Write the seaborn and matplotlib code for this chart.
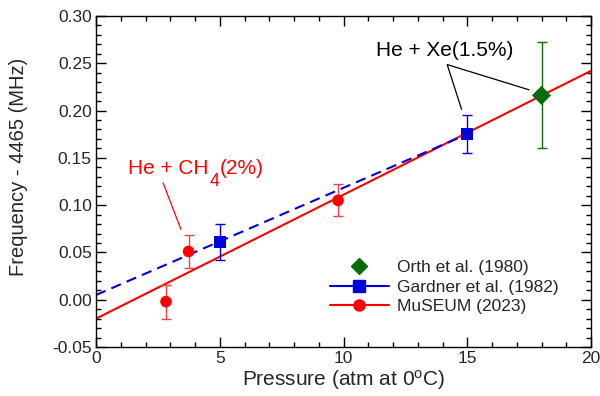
import matplotlib
matplotlib.use("Agg")
import matplotlib.pyplot as plt
import seaborn as sns
from matplotlib.ticker import MultipleLocator, FormatStrFormatter

# Data
museum_p = [2.83, 3.74, 9.78]
museum_f = [-0.002, 0.051, 0.105]
museum_err = [0.018, 0.017, 0.017]

gardner_p = [5.0, 15.0]
gardner_f = [0.061, 0.175]
gardner_err = [0.019, 0.020]

orth_p = [18.0]
orth_f = [0.216]
orth_err = [0.056]

# fitted lines (end points)
museum_fit_p = [0.0, 20.0]
museum_fit_f = [-0.020, 0.242]
gardner_fit_p = [0.0, 15.0]
gardner_fit_f = [0.005, 0.175]

labels = ["Orth et al. (1980)", "Gardner et al. (1982)", "MuSEUM (2023)"]

sns.set_theme(style="ticks")
plt.rcParams["font.family"] = ["Liberation Sans", "DejaVu Sans"]
plt.rcParams["mathtext.fontset"] = "custom"
plt.rcParams["mathtext.rm"] = "Liberation Sans"
plt.rcParams["mathtext.it"] = "Liberation Sans"

fig = plt.figure(figsize=(6, 3.96), dpi=100)
ax = fig.add_axes([0.16, 0.1237, 0.825, 0.836])

red = "#ff0000"
blue = "#0000dd"
green = "#0a6b0a"

# fit lines
sns.lineplot(x=museum_fit_p, y=museum_fit_f, ax=ax, color=red, lw=1.5)
sns.lineplot(x=gardner_fit_p, y=gardner_fit_f, ax=ax, color=blue, lw=1.5,
             linestyle=(0, (5, 3)))

# error bars
ax.errorbar(museum_p, museum_f, yerr=museum_err, fmt="none", ecolor="#f04040",
            elinewidth=1, capsize=3.5, capthick=1)
ax.errorbar(gardner_p, gardner_f, yerr=gardner_err, fmt="none", ecolor=blue,
            elinewidth=1, capsize=3.5, capthick=1)
ax.errorbar(orth_p, orth_f, yerr=orth_err, fmt="none", ecolor=green,
            elinewidth=1, capsize=3.5, capthick=1)

# points
sns.scatterplot(x=orth_p, y=orth_f, ax=ax, marker="D", color=green, s=95,
                edgecolor="none", zorder=5)
sns.scatterplot(x=gardner_p, y=gardner_f, ax=ax, marker="s", color=blue, s=75,
                edgecolor="none", zorder=5)
sns.scatterplot(x=museum_p, y=museum_f, ax=ax, marker="o", color=red, s=70,
                edgecolor="none", zorder=5)

# annotation: He + CH4 (subscript drawn lowered like the original)
t1 = ax.text(1.305, 0.1329, "He + CH", color=red, fontsize=15,
             ha="left", va="baseline")
t2 = ax.annotate("4", xy=(1, 0.1329), xycoords=(t1, "data"),
                 xytext=(0.5, -8.4), textcoords="offset points",
                 color=red, fontsize=13, ha="left", va="baseline")
ax.annotate("(2%)", xy=(1, 0.1329), xycoords=(t2, "data"),
            xytext=(0.3, 0), textcoords="offset points",
            color=red, fontsize=15, ha="left", va="baseline")
ax.plot([2.71, 3.43], [0.1236, 0.0745], color=red, lw=0.9)

ax.text(14.1, 0.2575, "He + Xe(1.5%)", color="black", fontsize=15,
        ha="center", va="baseline")
ax.plot([14.77, 14.19, 17.5], [0.2013, 0.2486, 0.2219], color="black", lw=0.9)

# legend
handles = [
    plt.Line2D([], [], color=green, marker="D", linestyle="none", markersize=8),
    plt.Line2D([], [], color=blue, marker="s", lw=1.5, markersize=8),
    plt.Line2D([], [], color=red, marker="o", lw=1.5, markersize=8),
]
ax.legend(handles, labels, loc="lower right", bbox_to_anchor=(0.96, 0.062),
          frameon=False, fontsize=12.5, handlelength=3.4, handletextpad=0.5,
          labelspacing=0.25, borderpad=0.2)

ax.set_xlim(0, 20)
ax.set_ylim(-0.05, 0.30)
ax.xaxis.set_major_locator(MultipleLocator(5))
ax.xaxis.set_minor_locator(MultipleLocator(1))
ax.yaxis.set_major_locator(MultipleLocator(0.05))
ax.yaxis.set_minor_locator(MultipleLocator(0.01))
ax.yaxis.set_major_formatter(FormatStrFormatter("%.2f"))
ax.tick_params(which="both", direction="in", top=True, right=True,
               color="black", labelsize=12.5)
ax.tick_params(which="major", length=7, width=1, pad=3)
ax.tick_params(which="minor", length=3.5, width=1)
for s in ax.spines.values():
    s.set_color("black")
    s.set_linewidth(1)

ax.set_xlabel("Pressure (atm at 0$^{\\mathrm{o}}$C)", fontsize=15, labelpad=1)
ax.set_ylabel("Frequency - 4465 (MHz)", fontsize=14.5)
ax.yaxis.set_label_coords(-0.137, 0.545)

fig.savefig("out.png", dpi=100)
